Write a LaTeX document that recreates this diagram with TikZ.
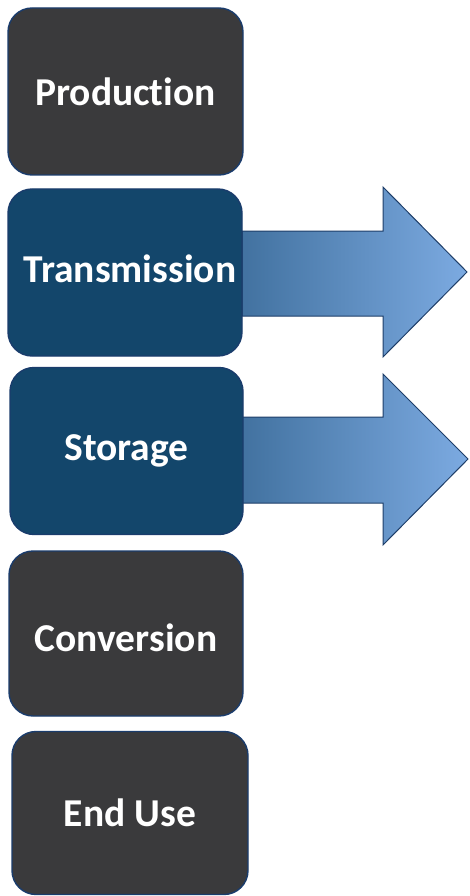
\documentclass[tikz,border=0pt]{standalone}
\usepackage{fontspec}
\setmainfont{Carlito}[RawFeature=-liga]
\usetikzlibrary{shadings}
\definecolor{boxgray}{RGB}{58,58,60}
\definecolor{boxblue}{RGB}{19,70,107}
\definecolor{boxedge}{RGB}{26,60,108}
\definecolor{arrowedge}{RGB}{30,62,105}
\definecolor{arrowdark}{RGB}{66,114,160}
\definecolor{arrowlight}{RGB}{124,170,225}
\tikzset{
  stage/.style={draw=boxedge, line width=1.4pt, rounded corners=24pt,
    minimum width=#1, minimum height=167pt, inner sep=0pt},
  graystage/.style={stage=#1, fill=boxgray},
  bluestage/.style={stage=#1, fill=boxblue},
  stagetext/.style={text=white, inner sep=0pt,
    font=\fontsize{39.5}{44}\selectfont\bfseries},
  flowarrow/.style={draw=arrowedge, line width=1pt, line join=miter,
    left color=arrowdark, right color=arrowlight, shading angle=90},
}
\begin{document}
\begin{tikzpicture}[x=1pt, y=-1pt]
\useasboundingbox (0,0) rectangle (469,896);
% block arrows leaving the two blue stages
\path[flowarrow] (242,231) -- (383,231) -- (383,187) -- (467,272)
  -- (383,357) -- (383,316) -- (242,316) -- cycle;
\path[flowarrow] (242,417) -- (383,417) -- (383,374) -- (468,459)
  -- (383,545) -- (383,503) -- (242,503) -- cycle;
% the five stages of the chain
\node[graystage=235pt] (prod) at (125.5,91.5) {};
\node[bluestage=234pt] (trans) at (125,272.5) {};
\node[bluestage=233pt] (stor) at (126.5,451) {};
\node[graystage=234pt, minimum height=165pt] (conv) at (126,633.5) {};
\node[graystage=236pt, minimum height=163pt] (enduse) at (130,813) {};
% stage names (canvas shifts: positive yshift moves a name up)
\node[stagetext] (prodtext) at (prod.center) {Production};
\node[stagetext] (transtext) at ([xshift=5pt, yshift=4pt]trans.center) {Transmission};
\node[stagetext] (stortext) at (stor.center) {Storage};
\node[stagetext] (convtext) at ([yshift=-4pt]conv.center) {Conversion};
\node[stagetext] (endusetext) at (enduse.center) {End Use};
\end{tikzpicture}
\end{document}
